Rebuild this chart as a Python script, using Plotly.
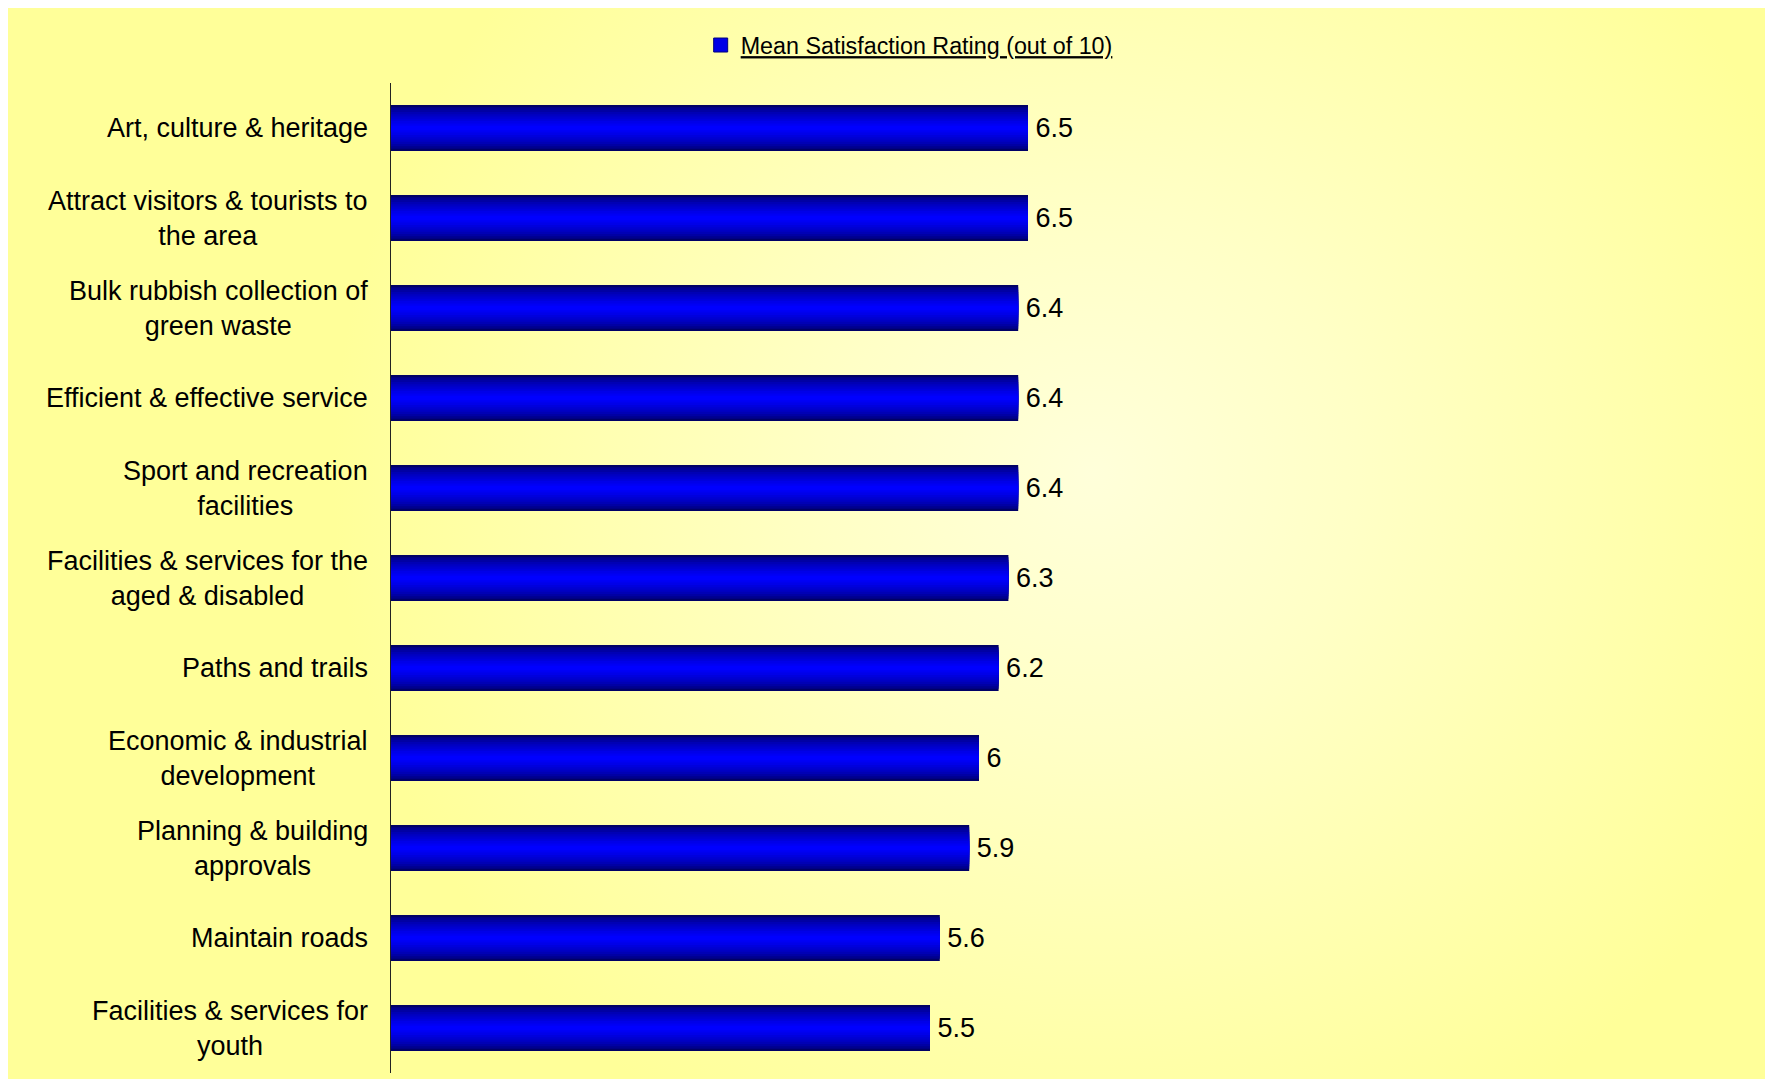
import base64

import plotly.graph_objects as go

categories = [
    "Art, culture & heritage",
    "Attract visitors & tourists to<br>the area",
    "Bulk rubbish collection of<br>green waste",
    "Efficient & effective service",
    "Sport and recreation<br>facilities",
    "Facilities & services for the<br>aged & disabled",
    "Paths and trails",
    "Economic & industrial<br>development",
    "Planning & building<br>approvals",
    "Maintain roads",
    "Facilities & services for<br>youth",
]
ratings = [6.5, 6.5, 6.4, 6.4, 6.4, 6.3, 6.2, 6.0, 5.9, 5.6, 5.5]
labels = ["6.5", "6.5", "6.4", "6.4", "6.4", "6.3", "6.2", "6", "5.9", "5.6", "5.5"]
series_name = "Mean Satisfaction Rating (out of 10)"

FONT = "Liberation Sans, Arial, sans-serif"
BAR_W = 0.51
W, H = 1765, 1071

# soft radial glow behind the chart
svg = f"""<svg xmlns="http://www.w3.org/2000/svg" width="{W}" height="{H}">
<defs><radialGradient id="g" gradientUnits="userSpaceOnUse" cx="1085" cy="465" r="760">
<stop offset="0" stop-color="#FFFFDA"/><stop offset="0.35" stop-color="#FFFFC6"/>
<stop offset="1" stop-color="#FFFF99"/></radialGradient></defs>
<rect width="{W}" height="{H}" fill="url(#g)"/></svg>"""
bg_src = "data:image/svg+xml;base64," + base64.b64encode(svg.encode()).decode()

fig = go.Figure()

# layered bars fake the navy-to-blue vertical shading
n_layers = 10
for i in range(n_layers):
    frac = 1 - i / n_layers
    t = i / (n_layers - 1)
    blue = int(0x66 + (0xFF - 0x66) * (t ** 0.6))
    last = i == n_layers - 1
    fig.add_trace(go.Bar(
        x=ratings, y=categories, orientation="h",
        width=BAR_W * frac,
        marker=dict(color=f"rgb(0,0,{blue})", line=dict(width=0)),
        name=series_name,
        showlegend=False,
        text=labels if last else None,
        texttemplate=" %{text}" if last else None,
        textposition="outside" if last else "none",
        constraintext="none",
        textfont=dict(size=27, color="#000000", family=FONT),
        cliponaxis=False,
        hoverinfo="skip" if not last else None,
    ))

# legend entry with a bigger square swatch
fig.add_trace(go.Scatter(
    x=[None], y=[None], mode="markers", name=f"<u>{series_name}</u>",
    marker=dict(symbol="square", size=14, color="#0000E6",
                line=dict(width=1, color="#000080")),
))

# category labels centred line by line, right-aligned to the axis
for cat in categories:
    fig.add_annotation(
        x=-0.021, y=cat, xref="paper", yref="y",
        text=cat, showarrow=False, xanchor="right", yanchor="middle",
        align="center", font=dict(size=27, family=FONT, color="#000000"),
    )

fig.update_layout(
    width=W, height=H,
    barmode="overlay",
    margin=dict(l=383, r=402, t=75, b=6),
    paper_bgcolor="#FFFF99",
    plot_bgcolor="rgba(0,0,0,0)",
    font=dict(family=FONT, color="#000000"),
    legend=dict(
        x=0.316, y=1.038, xanchor="left", yanchor="middle",
        orientation="h", bgcolor="rgba(0,0,0,0)",
        font=dict(size=23.3, family=FONT),
    ),
    images=[dict(
        source=bg_src, xref="paper", yref="paper",
        x=-383 / 980, y=1065 / 990, sizex=W / 980, sizey=H / 990,
        xanchor="left", yanchor="top", sizing="stretch", layer="below",
    )],
)
fig.update_xaxes(range=[0, 10], showgrid=False, zeroline=False,
                 showline=False, showticklabels=False)
fig.update_yaxes(autorange="reversed", showgrid=False, showline=True,
                 linecolor="#222222", linewidth=1, ticks="",
                 showticklabels=False)

fig.write_html("out.html")
